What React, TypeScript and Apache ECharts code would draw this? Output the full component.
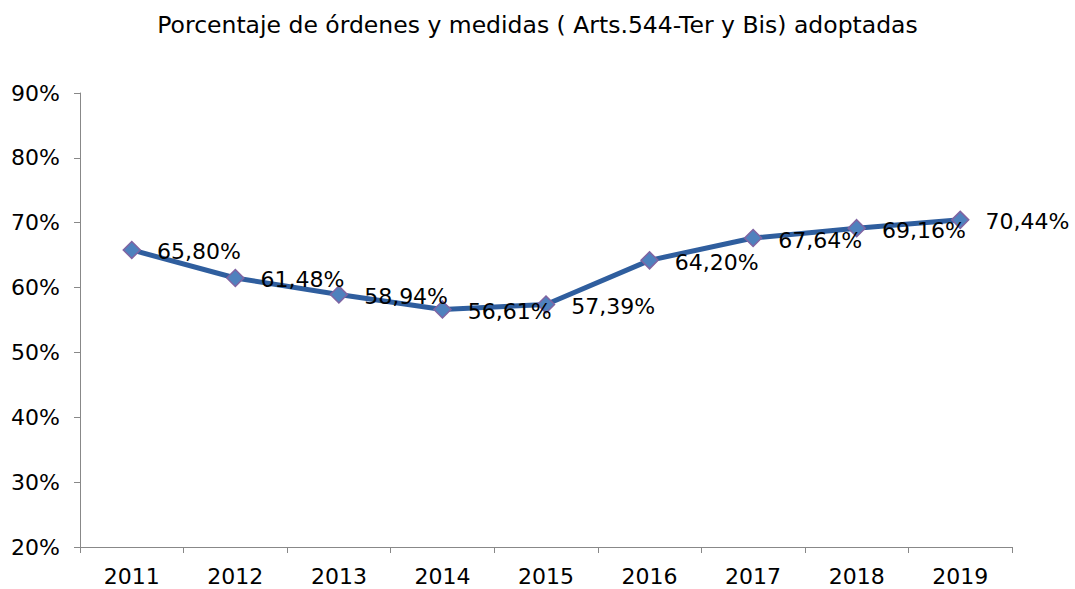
import React, { useEffect, useRef } from "react";
import * as echarts from "echarts";

const years = ["2011", "2012", "2013", "2014", "2015", "2016", "2017", "2018", "2019"];
const percentages = [65.8, 61.48, 58.94, 56.61, 57.39, 64.2, 67.64, 69.16, 70.44];
const titleText = "Porcentaje de órdenes y medidas ( Arts.544-Ter y Bis) adoptadas";

export default function App() {
  const ref = useRef<HTMLDivElement>(null);
  useEffect(() => {
    document.body.style.margin = "0";
    const chart = echarts.init(ref.current!, null, { renderer: "svg" });
    const font = "DejaVu Sans, Verdana, sans-serif";
    chart.setOption({
      animation: false,
      backgroundColor: "#ffffff",
      title: {
        text: titleText,
        left: "center",
        top: 8,
        textStyle: { fontFamily: font, fontSize: 23.5, fontWeight: "normal", color: "#000" },
      },
      grid: { left: 80, right: 63, top: 93, bottom: 42 },
      xAxis: {
        type: "category",
        data: years,
        boundaryGap: true,
        axisLine: { lineStyle: { color: "#888", width: 1 } },
        axisTick: { show: true, length: 6, lineStyle: { color: "#888" } },
        axisLabel: { fontFamily: font, fontSize: 22, color: "#000", margin: 18 },
        splitLine: { show: false },
      },
      yAxis: {
        type: "value",
        min: 20,
        max: 90,
        interval: 10,
        axisLine: { show: true, lineStyle: { color: "#888", width: 1 } },
        axisTick: { show: true, length: 6, lineStyle: { color: "#888" } },
        axisLabel: { fontFamily: font, fontSize: 22, color: "#000", formatter: "{value}%", margin: 20 },
        splitLine: { show: false },
      },
      series: [
        {
          type: "line",
          data: percentages,
          symbol: "diamond",
          symbolSize: 17,
          lineStyle: { color: "#2F5E9E", width: 5 },
          itemStyle: { color: "#4F81BD", borderColor: "#8064A2", borderWidth: 1.5 },
          label: {
            show: true,
            position: "right",
            distance: 16,
            offset: [0, 2],
            fontFamily: font,
            fontSize: 22,
            color: "#000",
            formatter: (p: any) => p.value.toFixed(2).replace(".", ",") + "%",
          },
        },
      ],
    });
    return () => chart.dispose();
  }, []);
  return <div ref={ref} style={{ width: 1075, height: 589 }} />;
}
